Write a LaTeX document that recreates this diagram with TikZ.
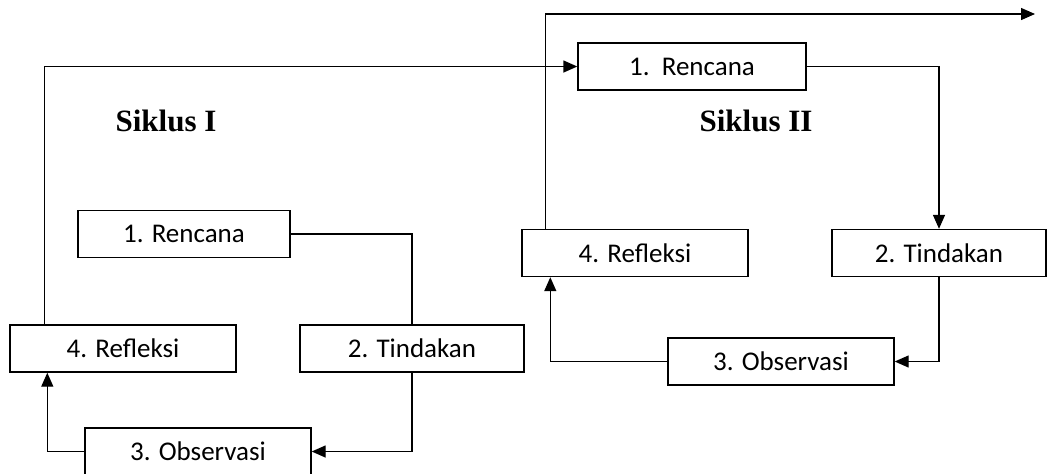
\documentclass[tikz,border=0pt]{standalone}
\usepackage{fontspec}
\setmainfont{Carlito}
\newfontfamily\siklusfont{Liberation Serif}
\usetikzlibrary{arrows.meta,positioning}

\begin{document}
\begin{tikzpicture}[x=0.5pt,y=-0.5pt]
\tikzset{STEP/.style={draw,rectangle,fill=white,line width=0.7pt,text centered,minimum width=113pt,minimum height=23.5pt,font=\fontsize{13.5}{15}\selectfont}}
\tikzset{FLOW/.style={draw,line width=0.7pt}}
\tikzset{ARROW/.style={FLOW,-{Triangle[length=7pt,width=6pt]}}}
\tikzset{CYCLE/.style={font=\siklusfont\bfseries\fontsize{15.5}{18}\selectfont}}

\useasboundingbox (0,0) rectangle (1048,473);

% Siklus I
\node[CYCLE] (siklus one) at (166,121) {Siklus I};
\node[STEP,minimum width=106pt] (rencana one) at (184,234) {1. Rencana};
\node[STEP,minimum width=112pt] (tindakan one) at (412,348.5) {2. Tindakan};
\node[STEP] (observasi one) at (198,451.5) {3. Observasi};
\node[STEP] (refleksi one) at (123,348.5) {4. Refleksi};

% Siklus II
\node[CYCLE] (siklus two) at (756,121) {Siklus II};
\node[STEP,minimum width=114pt] (rencana two) at (692,66.5) {1.\ \ Rencana};
\node[STEP,minimum width=107pt] (tindakan two) at (939,253) {2. Tindakan};
\node[STEP] (observasi two) at (781,361.5) {3. Observasi};
\node[STEP] (refleksi two) at (635,253) {4. Refleksi};
\coordinate (next cycle) at (1035,14);

\path[FLOW] (rencana one) -| (tindakan one.north);
\path[ARROW] (tindakan one) |- (observasi one);
\path[ARROW] (observasi one.west) -| ([xshift=19pt]refleksi one.south west);
\path[ARROW] ([xshift=17.5pt]refleksi one.north west) |- (rencana two);

\path[ARROW] (rencana two) -| (tindakan two);
\path[ARROW] (tindakan two) |- (observasi two);
\path[ARROW] (observasi two.west) -| ([xshift=14.5pt]refleksi two.south west);
\path[ARROW] ([xshift=12pt]refleksi two.north west) |- (next cycle);

\end{tikzpicture}
\end{document}
